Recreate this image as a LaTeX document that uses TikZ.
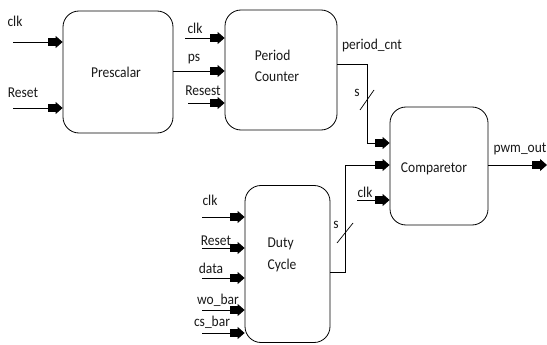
\documentclass[tikz,border=0pt]{standalone}
\usepackage{fontspec}
\setmainfont{Carlito}[FakeStretch=0.9]
\usetikzlibrary{arrows.meta,decorations.markings}

\tikzset{
  blk/.style={draw, line width=0.8pt, rounded corners=16pt, inner sep=0pt},
  txt/.style={inner sep=0pt, font=\fontsize{15}{21.5}\selectfont, text=black!90},
  wire/.style={line width=0.8pt},
  sig/.style={wire, -{Triangle[length=7pt,width=12pt]},
    postaction={decorate, decoration={markings,
      mark=at position 1 with {\fill (-15pt,-3.6pt) rectangle (-6pt,3.6pt);}}}},
  bus/.style={line width=0.7pt}
}

\begin{document}
\begin{tikzpicture}[x=1pt,y=-1pt]
\useasboundingbox (0,0) rectangle (547,345);

% blocks
\node[blk, minimum width=110pt, minimum height=122pt] (pre)  at (118,72)   {};
\node[blk, minimum width=112pt, minimum height=120pt] (per)  at (281,70)   {};
\node[blk, minimum width=98pt,  minimum height=118pt] (cmp)  at (439,166)  {};
\node[blk, minimum width=85pt,  minimum height=157pt] (duty) at (287.5,264){};

% block titles
\node[txt] (pre-t)  at (116,72)  {Prescalar};
\node[txt, align=left] (per-t)  at (277,66)  {Period\\Counter};
\node[txt] (cmp-t)  at (434,169) {Comparetor};
\node[txt, align=left] (duty-t) at (282,255) {Duty\\Cycle};

% prescalar inputs
\coordinate (pclk) at (13,42);
\coordinate (prst) at (13,108);
\draw[sig] (pclk) -- (pclk -| pre.west);
\draw[sig] (prst) -- (prst -| pre.west);
\node[txt] (l-pclk) at (15,21) {clk};
\node[txt] (l-prst) at (23,93) {Reset};

% period counter inputs
\coordinate (cclk) at (185,38);
\coordinate (crst) at (188,103);
\coordinate (pps)  at (pre.east |- 0,71);
\draw[sig] (cclk) -- (cclk -| per.west);
\draw[sig] (pps) -- (pps -| per.west);
\draw[sig] (crst) -- (crst -| per.west);
\node[txt] (l-cclk) at (195,28) {clk};
\node[txt] (l-pps)  at (194,59) {ps};
\node[txt] (l-crst) at (203,91) {Resest};

% period count bus to comparator
\coordinate (pc1) at (per.east |- 0,64);
\coordinate (pc2) at (367,64);
\coordinate (pc3) at (367,143);
\draw[sig] (pc1) -- (pc2) -- (pc3) -- (pc3 -| cmp.west);
\coordinate (sl1a) at (360,110);
\coordinate (sl1b) at (374,90);
\draw[bus] (sl1a) -- (sl1b);
\node[txt] (l-pcnt) at (372,46) {period\_cnt};
\node[txt] (l-s1)   at (357,93) {s};

% duty cycle bus to comparator
\coordinate (dc1) at (duty.east |- 0,272);
\coordinate (dc2) at (345,272);
\coordinate (dc3) at (345,165);
\draw[sig] (dc1) -- (dc2) -- (dc3) -- (dc3 -| cmp.west);
\coordinate (sl2a) at (337,243);
\coordinate (sl2b) at (353,223);
\draw[bus] (sl2a) -- (sl2b);
\node[txt] (l-s2) at (336,225) {s};

% comparator clock and output
\coordinate (mclk) at (357,200);
\draw[sig] (mclk) -- (mclk -| cmp.west);
\node[txt] (l-mclk) at (365,192) {clk};
\coordinate (pwm) at (547,165);
\draw[sig] (cmp.east |- pwm) -- (pwm);
\node[txt] (l-pwm) at (520,149) {pwm\_out};

% duty cycle inputs
\coordinate (dclk) at (202,217);
\coordinate (drst) at (202,248);
\coordinate (ddat) at (202,278);
\coordinate (dwo)  at (202,310);
\coordinate (dcs)  at (202,333);
\draw[sig] (dclk) -- (dclk -| duty.west);
\draw[sig] (drst) -- (drst -| duty.west);
\draw[sig] (ddat) -- (ddat -| duty.west);
\draw[sig] (dwo)  -- (dwo -| duty.west);
\draw[sig] (dcs)  -- (dcs -| duty.west);
\node[txt] (l-dclk) at (210,200) {clk};
\node[txt] (l-drst) at (216,241) {Reset};
\node[txt] (l-ddat) at (211,268) {data};
\node[txt] (l-dwo)  at (218,300) {wo\_bar};
\node[txt] (l-dcs)  at (212,322) {cs\_bar};
\end{tikzpicture}
\end{document}
